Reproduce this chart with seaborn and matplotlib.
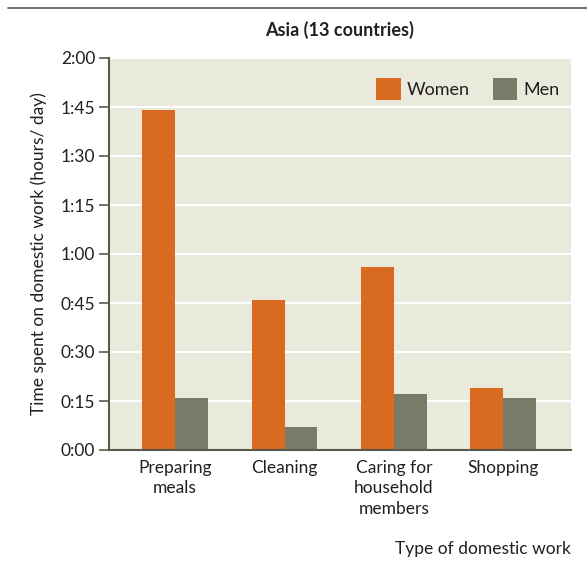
#!/usr/bin/env python3
"""Time spent on domestic work by women and men, Asia."""

import matplotlib
matplotlib.use("Agg")
import matplotlib.pyplot as plt
from matplotlib.lines import Line2D
from matplotlib.ticker import FuncFormatter, MultipleLocator
import pandas as pd
import seaborn as sns

CATEGORIES = ["Preparing\nmeals", "Cleaning", "Caring for\nhousehold\nmembers", "Shopping"]
WOMEN_MIN = [104, 46, 56, 19]
MEN_MIN = [16, 7, 17, 16]

COLORS = {"Women": "#D86B1F", "Men": "#7A7A68"}
BG = "#E9EADC"
INK = "#231F20"
SPINE = "#5A5A4C"


def hmm(v, _pos):
    v = int(round(v))
    return f"{v // 60}:{v % 60:02d}"


def main():
    sns.set_theme(style="white")
    plt.rcParams["font.family"] = ["Lato", "DejaVu Sans"]

    df = pd.DataFrame({
        "category": CATEGORIES * 2,
        "sex": ["Women"] * len(CATEGORIES) + ["Men"] * len(CATEGORIES),
        "minutes": WOMEN_MIN + MEN_MIN,
    })

    fig = plt.figure(figsize=(5.87, 5.61), dpi=100)
    ax = fig.add_axes([109 / 587, 1 - 450 / 561, 462 / 587, 392 / 561])

    sns.barplot(
        data=df, x="category", y="minutes", hue="sex",
        palette=COLORS, width=0.6, saturation=1, errorbar=None,
        order=CATEGORIES, hue_order=["Women", "Men"], ax=ax,
        linewidth=0, edgecolor="none",
    )

    ax.set_facecolor(BG)
    ax.set_ylim(0, 120)
    ax.set_xlim(-0.605, 3.62)
    ax.yaxis.set_major_locator(MultipleLocator(15))
    ax.yaxis.set_major_formatter(FuncFormatter(hmm))
    ax.grid(True, axis="y", color="white", linewidth=1.5)
    ax.set_axisbelow(True)

    for side in ("top", "right"):
        ax.spines[side].set_visible(False)
    for side in ("left", "bottom"):
        ax.spines[side].set_color(SPINE)
        ax.spines[side].set_linewidth(1.5)

    ax.tick_params(axis="y", left=True, length=7, width=1.2, color=SPINE,
                   labelsize=12.5, labelcolor=INK, pad=3)
    ax.tick_params(axis="x", bottom=False, labelsize=12.5, labelcolor=INK, pad=1)

    ax.set_xlabel("")
    ax.set_ylabel("Time spent on domestic work (hours/ day)", fontsize=12.5, color=INK, labelpad=10)
    fig.text(571 / 587, 1 - 549 / 561, "Type of domestic work", ha="right", va="center",
             fontsize=12.5, color=INK)
    fig.text(340 / 587, 1 - 30 / 561, "Asia (13 countries)", ha="center", va="center",
             fontsize=13, fontweight="bold", color=INK)

    # rule across the top of the panel
    fig.add_artist(Line2D([8 / 587, 1], [1 - 8 / 561, 1 - 8 / 561], color="#555555", linewidth=1.2))

    handles, labels = ax.get_legend_handles_labels()
    ax.legend(handles, labels, loc="upper right", ncol=2, frameon=False, fontsize=13,
              handlelength=1.35, handleheight=1.5, handletextpad=0.35, columnspacing=1.25,
              bbox_to_anchor=(1.01, 0.99), labelcolor=INK)

    # multi-line category labels sit a bit looser in the original
    fig.canvas.draw()
    for lbl in ax.get_xticklabels():
        lbl.set_linespacing(1.35)

    fig.savefig("out.png", dpi=100)
    plt.close(fig)


if __name__ == "__main__":
    main()
